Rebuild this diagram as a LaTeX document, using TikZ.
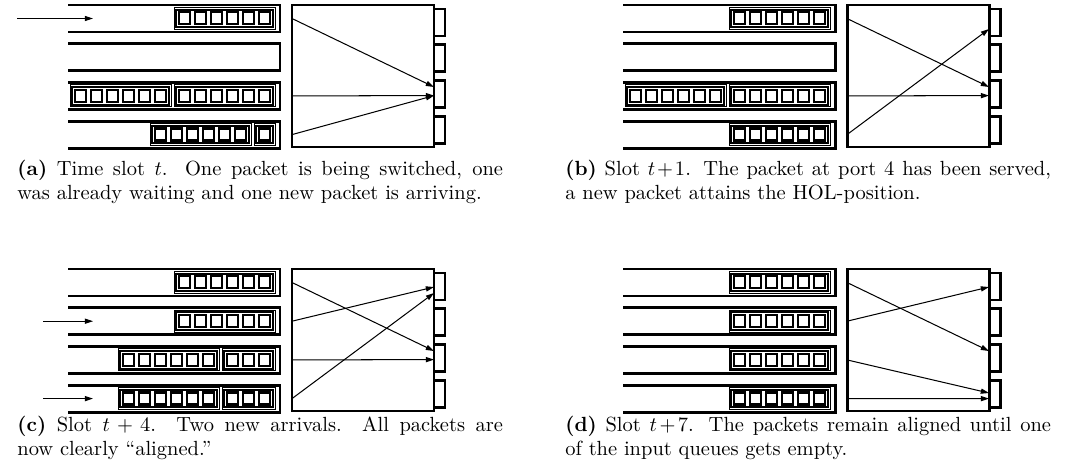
\documentclass[tikz,border=0pt]{standalone}
\usetikzlibrary{arrows.meta}
\newcommand\pkt[3]{% #1 right x, #2 queue index, #3 cells
  \pgfmathsetmacro\pyt{5+38.7*#2+2.4}%
  \pgfmathsetmacro\pxl{#1-(10+16*(#3-1)+11)}%
  \draw[pktouter] (\pxl,\pyt) rectangle (#1,\pyt+22);
  \draw[pktinner] (\pxl+2.2,\pyt+2.2) rectangle (#1-2.2,\pyt+19.8);
  \foreach \k in {1,...,#3} {\draw[cell] (\pxl+5+16*\k-16,\pyt+5) rectangle ++(11,12);}
}
\newcommand\drawpanel[4]{% #1 name, #2 dx, #3 dy, #4 packets
  \begin{scope}[shift={(#2,#3)}]
    \foreach \i in {0,...,3} {
      \pgfmathsetmacro\qt{5+38.7*\i}
      \draw[qline] (68,\qt) -- (280,\qt) -- (280,\qt+27) -- (68,\qt+27);
      \coordinate (#1-in\i) at (292,\qt+13.5);
      \coordinate (#1-src\i) at (43,\qt+13.5);
      \coordinate (#1-far\i) at (17,\qt+13.5);
      \coordinate (#1-dst\i) at (93,\qt+13.5);
      \pgfmathsetmacro\pt{9+35.7*\i}
      \draw[qline] (434,\pt) rectangle (445,\pt+27);
    }
    \draw[qline] (292,5) rectangle (434,147);
    \coordinate (#1-o1u) at (434,23);
    \coordinate (#1-o1l) at (434,29);
    \coordinate (#1-o3u) at (434,87);
    \coordinate (#1-o3l) at (434,95.6);
    \coordinate (#1-o4u) at (434,129);
    \coordinate (#1-o4l) at (434,134.6);
    #4
  \end{scope}}
\begin{document}
\begin{tikzpicture}[x=0.488pt,y=-0.488pt,
  qline/.style={line width=1.45pt},
  pktouter/.style={line width=0.45pt},
  pktinner/.style={line width=1pt},
  cell/.style={line width=1pt},
  conn/.style={line width=0.5pt,-{Triangle[length=4pt,width=2.5pt]}},
  captext/.style={anchor=base west, inner sep=0pt, text width=237pt, align=justify}]
\useasboundingbox (0,0) rectangle (1071,472);
% (a)
\drawpanel{a}{0}{0}{%
  \pkt{275}{0}{6}
  \pkt{275}{2}{6}\pkt{171}{2}{6}
  \pkt{275}{3}{1}\pkt{251}{3}{6}}
\draw[conn] (a-far0) -- (a-dst0);
\draw[conn] (a-in0) -- (a-o3u);
\draw[conn] (a-in2) -- (a-o3l);
\draw[conn] (a-in3) -- (a-o3l);
% (b)
\drawpanel{b}{555}{0}{%
  \pkt{275}{0}{6}
  \pkt{275}{2}{6}\pkt{171}{2}{6}
  \pkt{275}{3}{6}}
\draw[conn] (b-in0) -- (b-o3u);
\draw[conn] (b-in2) -- (b-o3l);
\draw[conn] (b-in3) -- (b-o1l);
% (c)
\drawpanel{c}{0}{264}{%
  \pkt{275}{0}{6}
  \pkt{275}{1}{6}
  \pkt{275}{2}{3}\pkt{219}{2}{6}
  \pkt{275}{3}{3}\pkt{219}{3}{6}}
\draw[conn] (c-src1) -- (c-dst1);
\draw[conn] (c-src3) -- (c-dst3);
\draw[conn] (c-in0) -- (c-o3u);
\draw[conn] (c-in1) -- (c-o1u);
\draw[conn] (c-in2) -- (c-o3l);
\draw[conn] (c-in3) -- (c-o1l);
% (d)
\drawpanel{d}{555}{264}{%
  \pkt{275}{0}{6}
  \pkt{275}{1}{6}
  \pkt{275}{2}{6}
  \pkt{275}{3}{6}}
\draw[conn] (d-in0) -- (d-o3u);
\draw[conn] (d-in1) -- (d-o1u);
\draw[conn] (d-in2) -- (d-o4u);
\draw[conn] (d-in3) -- (d-o4l);
% captions
\node[captext] (capa) at (17,175) {\textbf{(a)} Time slot $t$. One packet is being switched, one\linebreak was already waiting and one new packet is arriving.};
\node[captext] (capb) at (565,175) {\textbf{(b)} Slot $t\!+\!1$. The packet at port 4 has been served,\linebreak a new packet attains the HOL-position.};
\node[captext] (capc) at (17,431) {\textbf{(c)} Slot $t+4$. Two new arrivals. All packets are\linebreak now clearly ``aligned.''};
\node[captext] (capd) at (565,431) {\textbf{(d)} Slot $t\!+\!7$. The packets remain aligned until one\linebreak of the input queues gets empty.};
\end{tikzpicture}
\end{document}
